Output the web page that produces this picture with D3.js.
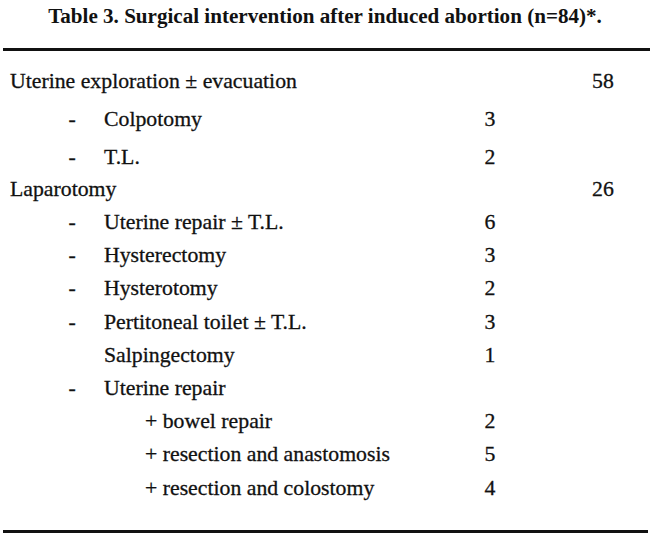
<html>
<head>
<meta charset="utf-8">
<title>Table 3</title>
<style>
    body{
        margin: 0;
        background: #fff;
    }
    svg{
        display: block;
    }
    text{
        fill: #111;
    }
</style>
</head>
<body>
<script src="https://d3js.org/d3.v7.min.js"></script>
<script>
    // Table contents
    const title = "Table 3. Surgical intervention after induced abortion (n=84)*.";
    const labels = [
        "Uterine exploration \u00b1 evacuation",
        "Colpotomy",
        "T.L.",
        "Laparotomy",
        "Uterine repair \u00b1 T.L.",
        "Hysterectomy",
        "Hysterotomy",
        "Pertitoneal toilet \u00b1 T.L.",
        "Salpingectomy",
        "Uterine repair",
        "+ bowel repair",
        "+ resection and anastomosis",
        "+ resection and colostomy"
    ];
    const levels = [0, 1, 1, 0, 1, 1, 1, 1, 1, 1, 2, 2, 2];
    const dashed = [false, true, true, false, true, true, true, true, false, true, false, false, false];
    const counts = [58, 3, 2, 26, 6, 3, 2, 3, 1, null, 2, 5, 4];

    const width = 650;
    const height = 542;
    const serif = "'Liberation Serif', 'Times New Roman', Times, serif";

    const svg = d3.select("body")
                .append("svg")
                .attr("width", width)
                .attr("height", height);

    // Title, sized to span the same width as the original
    const titleText = svg.append("text")
        .attr("x", 325)
        .attr("y", 23)
        .attr("text-anchor", "middle")
        .attr("font-family", serif)
        .attr("font-weight", "bold")
        .attr("font-size", 20)
        .text(title);
    const titleSize = 20 * 554 / titleText.node().getComputedTextLength();
    titleText.attr("font-size", titleSize);

    // Rules
    svg.append("rect").attr("x", 3).attr("y", 48).attr("width", 647).attr("height", 3).attr("fill", "#111");
    svg.append("rect").attr("x", 3).attr("y", 530).attr("width", 645).attr("height", 3).attr("fill", "#111");

    // Body font size from the width of the first line
    const probe = svg.append("text")
        .attr("font-family", serif)
        .attr("font-size", 20)
        .text(labels[0]);
    const bodySize = 20 * 287 / probe.node().getComputedTextLength();
    probe.remove();

    // Rows: split into sections, each starting with a level 0 entry
    const idx = d3.range(labels.length);
    const starts = idx.filter(i => levels[i] === 0);
    const sectionOf = i => d3.bisectRight(starts, i) - 1;

    const yScales = [
        d3.scalePoint().domain(idx.filter(i => sectionOf(i) === 0)).range([80, 156]),
        d3.scalePoint().domain(idx.filter(i => sectionOf(i) === 1)).range([188, 487])
    ];
    const y = i => yScales[sectionOf(i)](i);

    const xIndent = d3.scaleOrdinal().domain([0, 1, 2]).range([10, 104, 145]);
    const xCount = d3.scaleOrdinal().domain([0, 1, 2]).range([603, 490, 490]);

    // the scanned original is a little heavier, so give the glyphs a thin outline
    const rows = svg.append("g")
                    .attr("font-family", serif)
                    .attr("font-size", bodySize)
                    .attr("stroke", "#111")
                    .attr("stroke-width", 0.3)
                    .selectAll("g")
                    .data(idx)
                    .join("g")
                    .attr("transform", i => "translate(0," + y(i) + ")");

    rows.append("text")
        .attr("x", i => xIndent(levels[i]))
        .attr("dy", "0.35em")
        .text(i => labels[i]);

    rows.filter(i => dashed[i])
        .append("text")
        .attr("x", 72)
        .attr("dy", "0.35em")
        .attr("text-anchor", "middle")
        .text("-");

    rows.filter(i => counts[i] !== null)
        .append("text")
        .attr("x", i => xCount(levels[i]))
        .attr("dy", "0.35em")
        .attr("text-anchor", "middle")
        .text(i => counts[i]);
</script>
</body>
</html>
